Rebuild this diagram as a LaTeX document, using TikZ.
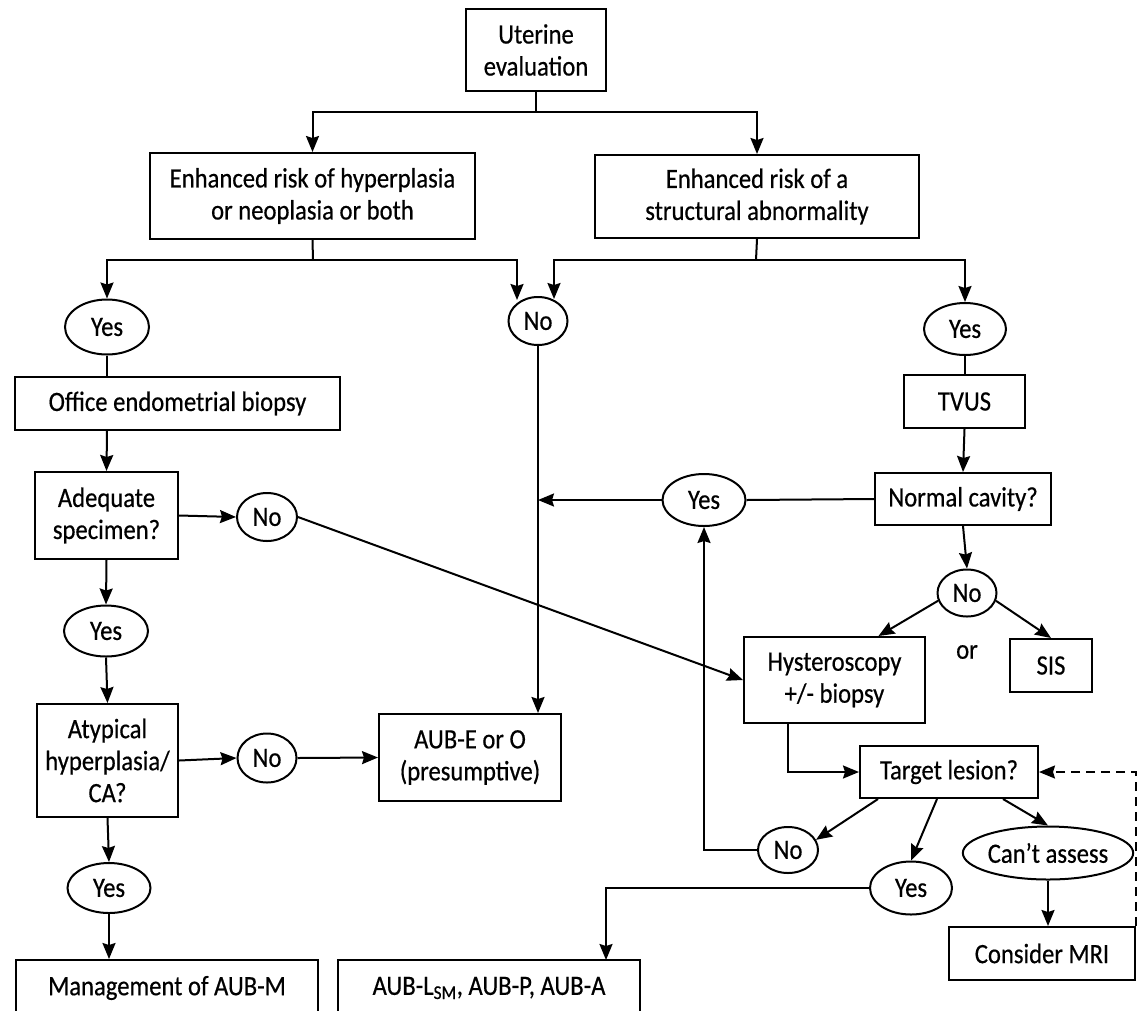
\documentclass[tikz,border=0pt]{standalone}
\usepackage{fontspec}
\setmainfont{Carlito}[FakeStretch=0.88,FakeBold=0.5]
\usetikzlibrary{arrows.meta,calc,shapes.geometric}
\tikzset{
  box/.style={draw, rectangle, align=center, inner sep=0pt},
  oval/.style={draw, ellipse, align=center, inner sep=0pt},
  arr/.style={-{Stealth[length=16pt,width=13pt,inset=2pt]}},
  dash8/.style={dash pattern=on 9pt off 6pt}
}
\begin{document}
\begin{tikzpicture}[x=1pt,y=-1pt,font=\fontsize{28}{32}\selectfont,line width=2pt]
\useasboundingbox (0,0) rectangle (1137,1010);
% nodes
\node[box,minimum width=140,minimum height=82] (ue) at (536,50) {Uterine\\evaluation};
\node[box,minimum width=325,minimum height=86] (ehr) at (312.5,196) {Enhanced risk of hyperplasia\\or neoplasia or both};
\node[box,minimum width=324,minimum height=83] (esa) at (757,196.5) {Enhanced risk of a\\structural abnormality};
\node[oval,minimum width=84,minimum height=55] (yes1) at (107,327) {Yes};
\node[oval,minimum width=59,minimum height=48] (no1) at (538,321) {No};
\node[oval,minimum width=82,minimum height=52] (yes2) at (965,329) {Yes};
\node[box,minimum width=325,minimum height=53] (oeb) at (177.5,403.5) {Office endometrial biopsy};
\node[box,minimum width=143,minimum height=87] (adeq) at (106.5,515.5) {Adequate\\specimen?};
\node[oval,minimum width=60,minimum height=48] (no2) at (267,517) {No};
\node[oval,minimum width=84,minimum height=51] (yes3) at (106,631) {Yes};
\node[box,minimum width=141,minimum height=113] (atyp) at (107.5,760.5) {Atypical\\hyperplasia/\\CA?};
\node[oval,minimum width=59,minimum height=49] (no3) at (267,758) {No};
\node[box,minimum width=182,minimum height=87] (aube) at (470,757.5) {AUB-E or O\\(presumptive)};
\node[oval,minimum width=83,minimum height=50] (yes4) at (109,888) {Yes};
\node[box,minimum width=302,minimum height=56] (mgmt) at (167,988) {Management of AUB-M};
\node[box,minimum width=302,minimum height=56] (aubl) at (489,988) {AUB-L\textsubscript{SM}, AUB-P, AUB-A};
\node[box,minimum width=121,minimum height=53] (tvus) at (964.5,401.5) {TVUS};
\node[box,minimum width=176,minimum height=52] (nc) at (963,499) {Normal cavity?};
\node[oval,minimum width=83,minimum height=52] (yes5) at (704,500) {Yes};
\node[oval,minimum width=59,minimum height=47] (no4) at (967,593) {No};
\node[box,minimum width=181,minimum height=86] (hyst) at (834.5,680) {Hysteroscopy\\+/- biopsy};
\node[box,minimum width=82,minimum height=53] (sis) at (1051,665.5) {SIS};
\node (or) at (967,652) {or};
\node[box,minimum width=178,minimum height=52] (tl) at (949,772) {Target lesion?};
\node[oval,minimum width=60,minimum height=46] (no5) at (788,850) {No};
\node[oval,minimum width=82,minimum height=53] (yes6) at (911,888) {Yes};
\node[oval,minimum width=158,minimum height=53] (cant) at (1048,853) {Can’t assess};
\node[box,minimum width=186,minimum height=53] (mri) at (1042,953.5) {Consider MRI};
% coordinates
\coordinate (split1) at (536,112);
\coordinate (split2) at (313,260);
\coordinate (split3) at (756,260);
\coordinate (no1a) at ($(no1.center)+(-21,-21)$);
\coordinate (no1b) at ($(no1.center)+(16,-22)$);
\coordinate (aublin) at (606,960);
% connectors
\draw (ue.south) -- (split1);
\draw[arr] (split1) -| (ehr.north);
\draw[arr] (split1) -| (esa.north);
\draw (ehr.south) -- (split2);
\draw[arr] (split2) -| (yes1.north);
\draw[arr] (split2) -| (no1a);
\draw (esa.south) -- (split3);
\draw[arr] (split3) -| (no1b);
\draw[arr] (split3) -| (yes2.north);
\draw (yes1.south) -- (yes1.south |- oeb.north);
\draw[arr] (yes1.south |- oeb.south) -- (adeq.north);
\draw[arr] (adeq.east) -- (no2.west);
\draw[arr] (no2.east) -- (hyst.west);
\draw[arr] (adeq.south) -- (yes3.north);
\draw[arr] (yes3.south) -- (atyp.north);
\draw[arr] (atyp.east) -- (no3.west);
\draw[arr] (no3.east) -- (aube.west);
\draw[arr] (atyp.south) -- (yes4.north);
\draw[arr] (yes4.south) -- (yes4.south |- mgmt.north);
\draw[arr] (no1.south) -- (no1.south |- aube.north);
\draw (yes2.south) -- (yes2.south |- tvus.north);
\draw[arr] (tvus.south) -- (nc.north);
\draw (nc.west) -- (yes5.east);
\draw[arr] (yes5.west) -- (no1.south |- yes5.west);
\draw[arr] (nc.south) -- (no4.north);
\draw[arr] (no4.195) -- ($(hyst.north)+(44,0)$);
\draw[arr] (no4.345) -- (sis.north);
\draw[arr] ($(hyst.south)+(-47,0)$) |- (tl.west);
\draw ($(sis.south)+(27,0)$) -- ($(sis.south)+(27,0)$ |- tl.east);
\draw[arr,dash8] (mri.north east) |- (tl.east);
\draw[arr] ($(tl.south)+(-71,0)$) -- (no5.20);
\draw[arr] (no5.west) -| (yes5.south);
\draw[arr] ($(tl.south)+(-12,0)$) -- (yes6.north);
\draw[arr] (yes6.west) -| (aublin);
\draw[arr] ($(tl.south)+(54,0)$) -- (cant.north);
\draw[arr] (cant.south) -- (cant.south |- mri.north);
\end{tikzpicture}
\end{document}
